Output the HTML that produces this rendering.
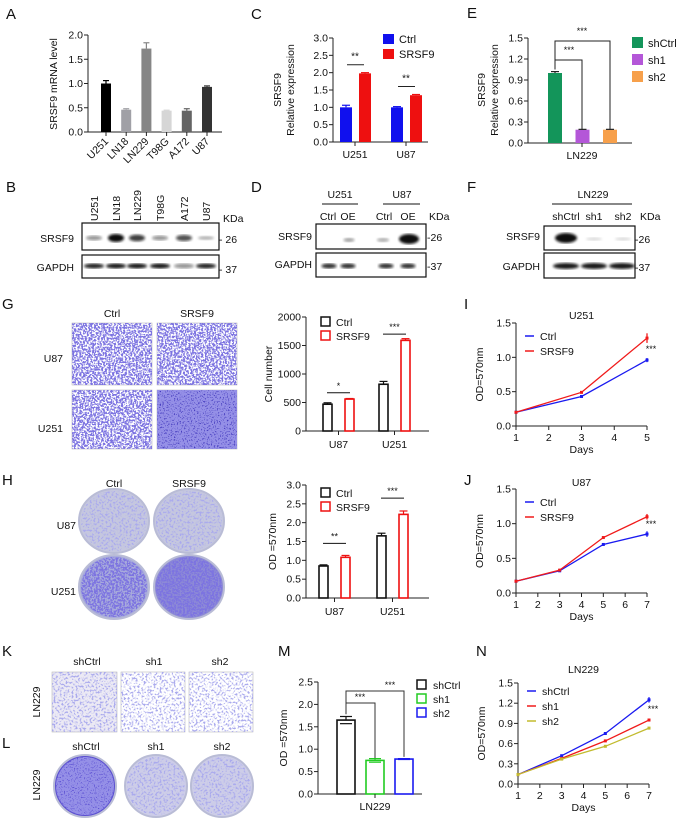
<!DOCTYPE html>
<html><head><meta charset="utf-8"><style>
html,body{margin:0;padding:0;background:#fff;}
svg{display:block;font-family:"Liberation Sans",Arial,sans-serif;}
text{fill:#111;}
</style></head><body>
<svg id="fig" width="677" height="819" viewBox="0 0 677 819" xmlns="http://www.w3.org/2000/svg">
<defs>
<filter id="cells" x="0" y="0" width="100%" height="100%">
<feTurbulence type="fractalNoise" baseFrequency="0.55" numOctaves="2" seed="3"/>
<feColorMatrix type="matrix" values="0 0 0 0 0.2  0 0 0 0 0.17  0 0 0 0 0.75  8 0 0 0 -3.4"/>
</filter>
<filter id="cellsDense" x="0" y="0" width="100%" height="100%">
<feTurbulence type="fractalNoise" baseFrequency="0.7" numOctaves="2" seed="5"/>
<feColorMatrix type="matrix" values="0 0 0 0 0.3  0 0 0 0 0.28  0 0 0 0 0.8  6 0 0 0 -1.6"/>
</filter>
<filter id="cellsSparse" x="0" y="0" width="100%" height="100%">
<feTurbulence type="fractalNoise" baseFrequency="0.5" numOctaves="2" seed="8"/>
<feColorMatrix type="matrix" values="0 0 0 0 0.4  0 0 0 0 0.4  0 0 0 0 0.85  7 0 0 0 -3.6"/>
</filter>
<filter id="blur"><feGaussianBlur stdDeviation="1.3"/></filter>
</defs>
<g id="root"></g>
</svg>
<script>
// ---------- data ----------
const aCats=['U251','LN18','LN229','T98G','A172','U87'];
const aVals=[1.0,0.46,1.72,0.44,0.44,0.93];
const aErr=[0.06,0.02,0.12,0.01,0.04,0.02];
const aTicks=[0,0.5,1.0,1.5,2.0];
const aTickLabels=['0.0','0.5','1.0','1.5','2.0'];

const cCats=['U251','U87'];
const cCtrl=[1.0,1.0];
const cSRSF9=[1.98,1.35];
const cCtrlErr=[0.06,0.02];
const cSrErr=[0.02,0.02];
const cTicks=[0,0.5,1.0,1.5,2.0,2.5,3.0];
const cTickLabels=['0.0','0.5','1.0','1.5','2.0','2.5','3.0'];

const eGroups=['shCtrl','sh1','sh2'];
const eVals=[1.0,0.19,0.19];
const eErr=[0.02,0.005,0.005];
const eTicks=[0,0.3,0.6,0.9,1.2,1.5];
const eTickLabels=['0.0','0.3','0.6','0.9','1.2','1.5'];

const gCats=['U87','U251'];
const gCtrl=[470,820];
const gSRSF9=[560,1590];
const gCtrlErr=[25,50];
const gSrErr=[10,30];
const gTicks=[0,500,1000,1500,2000];
const gTickLabels=['0','500','1000','1500','2000'];

const hCats=['U87','U251'];
const hCtrl=[0.85,1.65];
const hSRSF9=[1.08,2.22];
const hCtrlErr=[0.03,0.07];
const hSrErr=[0.05,0.09];
const hTicks=[0,0.5,1.0,1.5,2.0,2.5,3.0];
const hTickLabels=['0.0','0.5','1.0','1.5','2.0','2.5','3.0'];

const iDays=[1,3,5];
const iCtrl=[0.2,0.43,0.96];
const iSRSF9=[0.2,0.49,1.28];
const iXTicks=[1,2,3,4,5];
const iYTicks=[0,0.5,1.0,1.5];
const iYTickLabels=['0.0','0.5','1.0','1.5'];

const jDays=[1,3,5,7];
const jCtrl=[0.17,0.32,0.70,0.85];
const jSRSF9=[0.17,0.33,0.80,1.10];
const jXTicks=[1,2,3,4,5,6,7];
const jYTicks=[0,0.5,1.0,1.5];
const jYTickLabels=['0.0','0.5','1.0','1.5'];

const mGroups=['shCtrl','sh1','sh2'];
const mVals=[1.65,0.75,0.78];
const mErr=[0.08,0.04,0.01];
const mTicks=[0,0.5,1.0,1.5,2.0,2.5];
const mTickLabels=['0.0','0.5','1.0','1.5','2.0','2.5'];

const nDays=[1,3,5,7];
const nShCtrl=[0.14,0.42,0.75,1.25];
const nSh1=[0.14,0.38,0.64,0.95];
const nSh2=[0.14,0.37,0.56,0.83];
const nXTicks=[1,2,3,4,5,6,7];
const nYTicks=[0,0.3,0.6,0.9,1.2,1.5];
const nYTickLabels=['0.0','0.3','0.6','0.9','1.2','1.5'];

// ---------- helpers ----------
const NS='http://www.w3.org/2000/svg';
const root=document.getElementById('root');
function mk(tag,attrs,parent){const e=document.createElementNS(NS,tag);for(const k in attrs)e.setAttribute(k,attrs[k]);(parent||root).appendChild(e);return e;}
function txt(x,y,s,size,anchor,parent,extra){const t=mk('text',Object.assign({x:x,y:y,'font-size':size||10,'text-anchor':anchor||'middle'},extra||{}),parent);t.textContent=s;return t;}
function grp(name){const g=mk('g',{});

return g;}
function scaleY(v,yb,yt,max){return yb-v/max*(yb-yt);}
function scaleX(d,x0,x1,dmin,dmax){return x0+(d-dmin)/(dmax-dmin)*(x1-x0);}
function yAxis(g,x,yb,yt,max,ticks,labels,fs){
  const l=mk('line',{x1:x,y1:yb,x2:x,y2:yt,stroke:'#222','stroke-width':1},g);
  
  
  ticks.forEach((t,i)=>{const y=scaleY(t,yb,yt,max);
    mk('line',{x1:x-4,y1:y,x2:x,y2:y,stroke:'#222'},g);
    const tl=txt(x-5,y+3.5,labels[i],fs||10.5,'end',g);
    
    
  });
}
function xAxisLine(g,x0,x1,y){const l=mk('line',{x1:x0,y1:y,x2:x1,y2:y,stroke:'#222'},g);
  
  }
function errBar(g,x,yv,ye,w,col){mk('line',{x1:x,y1:yv,x2:x,y2:ye,stroke:col,'stroke-width':1.2},g);mk('line',{x1:x-w,y1:ye,x2:x+w,y2:ye,stroke:col,'stroke-width':1.2},g);}
function ylab(g,x,y,s,fs){const t=txt(x,y,s,fs||10.5,'middle',g,{transform:'rotate(-90 '+x+' '+y+')'});
return t;}
function letter(x,y,s){const t=txt(x,y,s,15,'start');
}

// ---------- panel letters ----------
[['A',6,19],['C',251,19],['E',467,18],['B',6,192],['D',251,192],['F',467,192],['G',2,309],['I',464,309],['H',2,485],['J',464,485],['K',2,656],['M',278,656],['N',476,656],['L',2,748]].forEach(p=>letter(p[1],p[2],p[0]));

// ---------- A ----------
(function(){const g=grp('panel-a-chart');const yb=132,yt=35,max=2.0,x=88;
  yAxis(g,x,yb,yt,max,aTicks,aTickLabels);xAxisLine(g,x,222,yb);
  const cols=['#000','#a0a0a6','#868686','#d6d6d6','#646464','#333'];
  aCats.forEach((c,i)=>{const cx=106+i*20.2;const y=scaleY(aVals[i],yb,yt,max);
    const r=mk('rect',{x:cx-5,y:y,width:10,height:yb-y,fill:cols[i]},g);
    
    
    errBar(g,cx,y,scaleY(aVals[i]+aErr[i],yb,yt,max),3,cols[i]);
    mk('line',{x1:cx,y1:yb,x2:cx,y2:yb+4,stroke:'#222'},g);
    const t=txt(cx+3,yb+10,c,10.5,'end',g,{transform:'rotate(-45 '+(cx+3)+' '+(yb+10)+')'});
    
    
  });
  ylab(g,57,84,'SRSF9 mRNA level');
})();

// ---------- C ----------
(function(){const g=grp('panel-c-chart');const yb=142,yt=38,max=3.0,x=333;
  yAxis(g,x,yb,yt,max,cTicks,cTickLabels);xAxisLine(g,x,428,yb);
  cCats.forEach((c,i)=>{const gx=346+i*51;
    const y1=scaleY(cCtrl[i],yb,yt,max),y2=scaleY(cSRSF9[i],yb,yt,max);
    const b1=mk('rect',{x:gx-6,y:y1,width:12,height:yb-y1,fill:'#1010ee'},g);
    
    
    errBar(g,gx,y1,scaleY(cCtrl[i]+cCtrlErr[i],yb,yt,max),4,'#1010ee');
    const b2=mk('rect',{x:gx+13,y:y2,width:12,height:yb-y2,fill:'#ee1010'},g);
    
    
    errBar(g,gx+19,y2,scaleY(cSRSF9[i]+cSrErr[i],yb,yt,max),4,'#ee1010');
    mk('line',{x1:gx+9,y1:yb,x2:gx+9,y2:yb+4,stroke:'#222'},g);
    txt(gx+9,yb+16,c,10.5,'middle',g);
    const top=scaleY(Math.max(cCtrl[i],cSRSF9[i])+0.25,yb,yt,max);
    mk('line',{x1:gx+1,y1:top,x2:gx+18,y2:top,stroke:'#222'},g);
    txt(gx+9,top-5,'**',10,'middle',g);
  });
  mk('rect',{x:383,y:34,width:11,height:10,fill:'#1010ee'},g);txt(399,43,'Ctrl',11,'start',g);
  mk('rect',{x:383,y:49,width:11,height:10,fill:'#ee1010'},g);txt(399,58,'SRSF9',11,'start',g);
  ylab(g,281,90,'SRSF9');ylab(g,294,90,'Relative expression');
})();

// ---------- E ----------
(function(){const g=grp('panel-e-chart');const yb=143,yt=38,max=1.5,x=528;
  yAxis(g,x,yb,yt,max,eTicks,eTickLabels);xAxisLine(g,x,632,yb);
  const cols=['#13955a','#b457d8','#f7a04b'];
  eGroups.forEach((c,i)=>{const cx=555+i*27.5;const y=scaleY(eVals[i],yb,yt,max);
    const r=mk('rect',{x:cx-7,y:y,width:14,height:yb-y,fill:cols[i]},g);
    
    
    errBar(g,cx,y,scaleY(eVals[i]+eErr[i],yb,yt,max),4,'#222');
    mk('rect',{x:632,y:37+i*17,width:11,height:11,fill:cols[i]},g);
    txt(648,47+i*17,c,11,'start',g);
  });
  mk('line',{x1:582,y1:yb,x2:582,y2:yb+4,stroke:'#222'},g);
  txt(582,159,'LN229',10.5,'middle',g);
  const y0=scaleY(1.05,yb,yt,max);
  mk('polyline',{points:'555,'+y0+' 555,60 582,60 582,'+(scaleY(0.2,yb,yt,max)),fill:'none',stroke:'#222'},g);
  mk('polyline',{points:'555,'+(y0-4)+' 555,41 610,41 610,'+(scaleY(0.2,yb,yt,max)),fill:'none',stroke:'#222'},g);
  txt(569,53,'***',9,'middle',g);txt(582,34,'***',9,'middle',g);
  ylab(g,485,90,'SRSF9');ylab(g,498,90,'Relative expression');
})();

// ---------- Western blots ----------
function band(g,cx,cy,w,h,op){const e=mk('ellipse',{cx:cx,cy:cy,rx:w/2,ry:h/2,fill:'#111','fill-opacity':op,filter:'url(#blur)'},g);
  
  }
function box(g,x,y,w,h,name){const r=mk('rect',{x:x,y:y,width:w,height:h,fill:'#fff',stroke:'#111','stroke-width':1.2},g);
  
  }
(function(){const g=grp('panel-b-blot');
  const lanes=['U251','LN18','LN229','T98G','A172','U87'];
  const xs=[94,116,137,160,184,206];const s=[0.45,1,0.8,0.45,0.72,0.3];const gp=[0.9,0.95,0.95,0.95,0.45,0.9];
  box(g,82,223,137,27,'srsf9-blot');box(g,82,255,137,23,'gapdh-blot');
  lanes.forEach((l,i)=>{txt(xs[i]+4,221,l,10.5,'start',g,{transform:'rotate(-90 '+(xs[i]+4)+' 221)'});
    band(g,xs[i],238,16,6*s[i]+2,s[i]);band(g,xs[i],266,20,5,gp[i]);});
  txt(74,242,'SRSF9',10.5,'end',g);txt(74,271,'GAPDH',10.5,'end',g);
  txt(223,222,'KDa',10.5,'start',g);txt(219,243,'- 26',10.5,'start',g);txt(219,273,'- 37',10.5,'start',g);
})();
(function(){const g=grp('panel-d-blot');
  box(g,316,224,110,25,'srsf9-blot');box(g,316,253,110,24,'gapdh-blot');
  txt(340,198,'U251',10.5,'middle',g);txt(402,198,'U87',10.5,'middle',g);
  mk('line',{x1:322,y1:204,x2:358,y2:204,stroke:'#111'},g);mk('line',{x1:383,y1:204,x2:420,y2:204,stroke:'#111'},g);
  [['Ctrl',328],['OE',348],['Ctrl',384],['OE',408]].forEach(p=>txt(p[1],220,p[0],10.5,'middle',g));
  txt(429,220,'KDa',10.5,'start',g);
  band(g,349,240,11,4,0.4);band(g,383,240,12,4,0.35);band(g,409,239,20,10,1);
  [329,348,386,408].forEach(x=>band(g,x,266,15,5,0.85));
  txt(312,240,'SRSF9',10.5,'end',g);txt(312,268,'GAPDH',10.5,'end',g);
  txt(427,241,'-26',10.5,'start',g);txt(427,270,'-37',10.5,'start',g);
})();
(function(){const g=grp('panel-f-blot');
  box(g,544,226,91,24,'srsf9-blot');box(g,544,253,91,25,'gapdh-blot');
  txt(593,198,'LN229',10.5,'middle',g);mk('line',{x1:552,y1:204,x2:632,y2:204,stroke:'#111'},g);
  [['shCtrl',566],['sh1',594],['sh2',623]].forEach(p=>txt(p[1],220,p[0],10.5,'middle',g));
  txt(640,220,'KDa',10.5,'start',g);
  band(g,566,238,22,10,1);band(g,594,239,16,3,0.15);band(g,623,239,16,3,0.15);
  [566,594,622].forEach(x=>band(g,x,266,26,6,0.95));
  txt(540,240,'SRSF9',10.5,'end',g);txt(540,270,'GAPDH',10.5,'end',g);
  txt(635,243,'-26',10.5,'start',g);txt(635,271,'-37',10.5,'start',g);
})();

// ---------- microscope images ----------
function micro(g,x,y,w,h,f,name,base){const r=mk('rect',{x:x,y:y,width:w,height:h,fill:base||'#fff',stroke:'#bbb','stroke-width':0.6},g);
  
  
  mk('rect',{x:x,y:y,width:w,height:h,filter:'url(#'+f+')'},g);}
function plate(g,cx,cy,rx,ry,base,f,name){const e=mk('ellipse',{cx:cx,cy:cy,rx:rx,ry:ry,fill:base,stroke:'#b9bcd6','stroke-width':2},g);
  
  
  const id='cp'+Math.round(cx)+'_'+Math.round(cy);
  const cp=mk('clipPath',{id:id},g);mk('ellipse',{cx:cx,cy:cy,rx:rx-2,ry:ry-2},cp);
  if(f)mk('rect',{x:cx-rx,y:cy-ry,width:2*rx,height:2*ry,filter:'url(#'+f+')','clip-path':'url(#'+id+')'},g);}
(function(){const g=grp('panel-g-images');
  txt(112,317,'Ctrl',10.5,'middle',g);txt(197,317,'SRSF9',10.5,'middle',g);
  txt(63,362,'U87',10.5,'end',g);txt(63,432,'U251',10.5,'end',g);
  micro(g,72,323,80,62,'cells','transwell-u87-ctrl');micro(g,157,323,80,62,'cells','transwell-u87-srsf9');
  micro(g,72,390,80,59,'cells','transwell-u251-ctrl');
  micro(g,157,390,80,59,'cellsDense','transwell-u251-srsf9','#3f35bb');
})();
(function(){const g=grp('panel-h-plates');
  txt(114,487,'Ctrl',10.5,'middle',g);txt(189,487,'SRSF9',10.5,'middle',g);
  txt(76,529,'U87',10.5,'end',g);txt(76,595,'U251',10.5,'end',g);
  plate(g,114,521,35,32,'#c5c7df','cellsSparse','plate-u87-ctrl');plate(g,189,521,35,32,'#c5c7df','cellsSparse','plate-u87-srsf9');
  plate(g,114,587,35,32,'#a8abdc','cells','plate-u251-ctrl');plate(g,189,587,35,32,'#8d8ad6','cells','plate-u251-srsf9');
})();
(function(){const g=grp('panel-k-images');
  txt(87,665,'shCtrl',10.5,'middle',g);txt(154,665,'sh1',10.5,'middle',g);txt(220,665,'sh2',10.5,'middle',g);
  txt(40,702,'LN229',10.5,'middle',g,{transform:'rotate(-90 40 702)'});
  micro(g,52,672,65,60,'cellsSparse','transwell-shctrl','#eceaf4');micro(g,121,672,64,60,'cellsSparse','transwell-sh1');micro(g,189,672,64,60,'cellsSparse','transwell-sh2');
})();
(function(){const g=grp('panel-l-plates');
  txt(86,750,'shCtrl',10.5,'middle',g);txt(156,750,'sh1',10.5,'middle',g);txt(222,750,'sh2',10.5,'middle',g);
  txt(40,785,'LN229',10.5,'middle',g,{transform:'rotate(-90 40 785)'});
  plate(g,85,786,31,31,'#5b4fd2','cellsDense','plate-shctrl');plate(g,156,786,31,31,'#cdcde8','cellsSparse','plate-sh1');plate(g,222,786,31,31,'#cdcde8','cellsSparse','plate-sh2');
})();

// ---------- hollow grouped bar chart (G, H) ----------
function hollowChart(name,cats,ctrl,sr,ctrlErr,srErr,ticks,labels,max,yb,yt,x,xs,sigs,sigY,ttl,legY,labX){
  const g=grp(name);yAxis(g,x,yb,yt,max,ticks,labels);xAxisLine(g,x,429,yb);
  cats.forEach((c,i)=>{const gx=xs[i];
    const y1=scaleY(ctrl[i],yb,yt,max),y2=scaleY(sr[i],yb,yt,max);
    const b1=mk('rect',{x:gx,y:y1,width:9,height:yb-y1,fill:'none',stroke:'#111','stroke-width':1.6},g);
    
    
    errBar(g,gx+4.5,y1,scaleY(ctrl[i]+ctrlErr[i],yb,yt,max),4,'#111');
    const b2=mk('rect',{x:gx+22,y:y2,width:9,height:yb-y2,fill:'none',stroke:'#ee1111','stroke-width':1.6},g);
    
    
    errBar(g,gx+26.5,y2,scaleY(sr[i]+srErr[i],yb,yt,max),4,'#ee1111');
    mk('line',{x1:gx+15.5,y1:yb,x2:gx+15.5,y2:yb+4,stroke:'#222'},g);
    txt(gx+15.5,yb+17,c,10.5,'middle',g);
    const sy=scaleY(sigY[i],yb,yt,max);
    mk('line',{x1:gx+4,y1:sy,x2:gx+27,y2:sy,stroke:'#111'},g);
    txt(gx+15.5,sy-4,sigs[i],9,'middle',g);
  });
  mk('rect',{x:x+15,y:legY,width:9,height:9,fill:'none',stroke:'#111','stroke-width':1.5},g);txt(x+30,legY+9,'Ctrl',10.5,'start',g);
  mk('rect',{x:x+15,y:legY+14,width:9,height:9,fill:'none',stroke:'#ee1111','stroke-width':1.5},g);txt(x+30,legY+23,'SRSF9',10.5,'start',g);
  ylab(g,labX,(yb+yt)/2,ttl);
}
hollowChart('panel-g-chart',gCats,gCtrl,gSRSF9,gCtrlErr,gSrErr,gTicks,gTickLabels,2000,431,317,306,[323,379],['*','***'],[670,1700],'Cell number',317,272);
hollowChart('panel-h-chart',hCats,hCtrl,hSRSF9,hCtrlErr,hSrErr,hTicks,hTickLabels,3.0,598,485,306,[319,377],['**','***'],[1.45,2.65],'OD =570nm',488,276);

// ---------- line charts ----------
function lineChart(name,days,series,names,cols,xTicks,yTicks,yLabels,max,yb,yt,x0,x1,title,titleY,legY,starY,errs){
  const g=grp(name);yAxis(g,x0,yb,yt,max,yTicks,yLabels);xAxisLine(g,x0,x1,yb);
  const dmin=xTicks[0],dmax=xTicks[xTicks.length-1];
  xTicks.forEach(d=>{const x=scaleX(d,x0,x1,dmin,dmax);mk('line',{x1:x,y1:yb,x2:x,y2:yb+4,stroke:'#222'},g);
    const t=txt(x,yb+15,String(d),10.5,'middle',g);
    });
  txt((x0+x1)/2,yb+27,'Days',10.5,'middle',g);
  txt((x0+x1)/2,titleY,title,10.5,'middle',g);
  series.forEach((s,si)=>{const pts=s.map((v,i)=>scaleX(days[i],x0,x1,dmin,dmax)+','+scaleY(v,yb,yt,max)).join(' ');
    const pl=mk('polyline',{points:pts,fill:'none',stroke:cols[si],'stroke-width':1.3},g);
    
    
    s.forEach((v,i)=>{const px=scaleX(days[i],x0,x1,dmin,dmax),py=scaleY(v,yb,yt,max);
      const p=mk('rect',{x:px-1.5,y:py-1.5,width:3,height:3,fill:cols[si]},g);
      
      
      if(i===s.length-1){const e=errs[si]*(yb-yt)/max;mk('line',{x1:px,y1:py-e,x2:px,y2:py+e,stroke:cols[si],'stroke-width':1.3},g);}});
    mk('line',{x1:x0+9,y1:legY+si*15,x2:x0+18,y2:legY+si*15,stroke:cols[si],'stroke-width':1.5},g);
    txt(x0+24,legY+si*15+4,names[si],10.5,'start',g);
  });
  txt(x1+4,starY,'***',9,'middle',g);
  ylab(g,x0-33,(yb+yt)/2,'OD=570nm');
}
lineChart('panel-i-chart',iDays,[iCtrl,iSRSF9],['Ctrl','SRSF9'],['#1a1af0','#f01a1a'],iXTicks,iYTicks,iYTickLabels,1.5,426,323,516,647,'U251',319,336,352,[0.03,0.07]);
lineChart('panel-j-chart',jDays,[jCtrl,jSRSF9],['Ctrl','SRSF9'],['#1a1af0','#f01a1a'],jXTicks,jYTicks,jYTickLabels,1.5,593,489,516,647,'U87',486,502,527,[0.04,0.04]);
lineChart('panel-n-chart',nDays,[nShCtrl,nSh1,nSh2],['shCtrl','sh1','sh2'],['#1a1af0','#f01a1a','#c2bb2e'],nXTicks,nYTicks,nYTickLabels,1.5,784,683,518,649,'LN229',673,691,712,[0.04,0.02,0.01]);

// ---------- M ----------
(function(){const g=grp('panel-m-chart');const yb=794,yt=682,max=2.5,x=318;
  yAxis(g,x,yb,yt,max,mTicks,mTickLabels);xAxisLine(g,x,422,yb);
  const cols=['#111','#22cc22','#1a1af0'];
  mGroups.forEach((c,i)=>{const cx=346+i*29;const y=scaleY(mVals[i],yb,yt,max);
    const r=mk('rect',{x:cx-9,y:y,width:18,height:yb-y,fill:'none',stroke:cols[i],'stroke-width':1.6},g);
    
    
    errBar(g,cx,y,scaleY(mVals[i]+mErr[i],yb,yt,max),6,cols[i]);
    mk('line',{x1:cx-6,y1:scaleY(mVals[i]-mErr[i],yb,yt,max),x2:cx+6,y2:scaleY(mVals[i]-mErr[i],yb,yt,max),stroke:cols[i],'stroke-width':1.2},g);
    mk('rect',{x:417,y:680+i*14,width:9,height:9,fill:'none',stroke:cols[i],'stroke-width':1.5},g);
    txt(433,689+i*14,c,10.5,'start',g);
  });
  mk('line',{x1:375,y1:yb,x2:375,y2:yb+4,stroke:'#222'},g);
  txt(375,810,'LN229',10.5,'middle',g);
  const top=scaleY(mVals[0]+mErr[0]+0.05,yb,yt,max);
  mk('polyline',{points:'346,'+top+' 346,703 375,703 375,'+scaleY(mVals[1]+0.05,yb,yt,max),fill:'none',stroke:'#333'},g);
  mk('polyline',{points:'346,'+(top-8)+' 346,691 404,691 404,'+scaleY(mVals[2]+0.05,yb,yt,max),fill:'none',stroke:'#333'},g);
  txt(360,700,'***',9,'middle',g);txt(390,688,'***',9,'middle',g);
  ylab(g,287,738,'OD =570nm');
})();
</script>
</body></html>
